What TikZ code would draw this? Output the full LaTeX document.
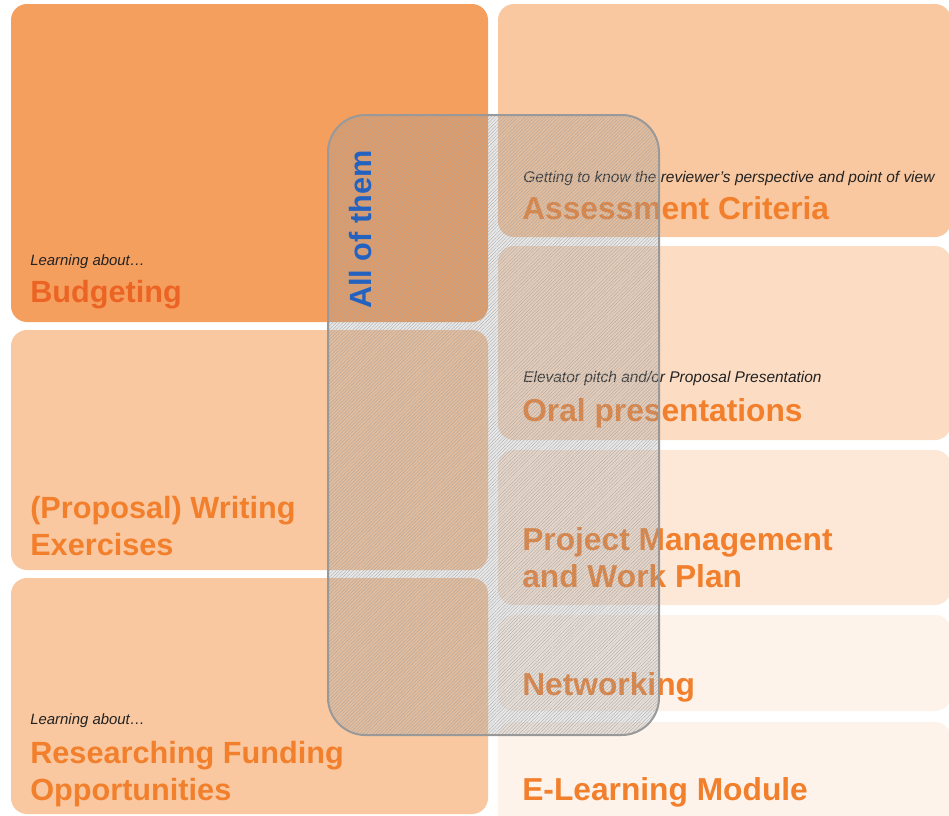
\documentclass[tikz,border=0pt]{standalone}
\usepackage{fontspec}
\setmainfont{Liberation Sans}
\usepackage{xcolor}
\usepackage{tikz}
\usetikzlibrary{patterns.meta}

\definecolor{boxdark}{HTML}{F59F5E}
\definecolor{boxmid}{HTML}{F9C8A0}
\definecolor{boxlight}{HTML}{FCDCC3}
\definecolor{boxpale}{HTML}{FDE8D8}
\definecolor{boxfaint}{HTML}{FEF3EA}
\definecolor{titleorange}{HTML}{F27F2C}
\definecolor{titlered}{HTML}{EC6424}
\definecolor{allblue}{HTML}{2462C0}
\definecolor{introgrey}{HTML}{222222}
\definecolor{framegrey}{HTML}{999999}

\begin{document}
\begin{tikzpicture}[x=0.75pt, y=-0.75pt,
    box/.style={rounded corners=12pt},
    title/.style={anchor=base west, inner sep=0pt, text=titleorange, align=left,
        font=\fontsize{23}{27.75}\selectfont\bfseries},
    righttitle/.style={title, font=\fontsize{23.8}{27.75}\selectfont\bfseries},
    intro/.style={anchor=base west, inner sep=0pt, text=introgrey,
        font=\fontsize{11.6}{13}\selectfont\itshape}]
            \clip (0,0) rectangle (949,815);

            \fill[boxdark, box] (11,4) rectangle (488,322);
            \fill[boxmid, box] (11,330) rectangle (488,570);
            \fill[boxmid, box] (11,578) rectangle (488,814);

            \fill[boxmid, box] (498,4) rectangle (951,237);
            \fill[boxlight, box] (498,246) rectangle (951,440);
            \fill[boxpale, box] (498,450) rectangle (951,605);
            \fill[boxfaint, box] (498,615) rectangle (951,711);
            \fill[boxfaint, box] (498,722) rectangle (951,840);

            \node[intro, font=\fontsize{11.2}{13}\selectfont\itshape] (budgetintro) at (30,265) {Learning about…};
            \node[title, text=titlered] (budgeting) at (30,302) {Budgeting};
            \node[title] (writing) at (30,555) {(Proposal) Writing\\Exercises};
            \node[intro, font=\fontsize{11.2}{13}\selectfont\itshape] (fundintro) at (30,724) {Learning about…};
            \node[title] (funding) at (30,800) {Researching Funding\\Opportunities};

            \node[intro] (assessintro) at (523,182) {Getting to know the reviewer’s perspective and point of view};
            \node[righttitle] (assessment) at (522,219) {Assessment Criteria};
            \node[intro] (oralintro) at (523,382) {Elevator pitch and/or Proposal Presentation};
            \node[righttitle] (oral) at (522,421) {Oral presentations};
            \node[righttitle] (project) at (522,587) {Project Management\\and Work Plan};
            \node[righttitle] (networking) at (522,695) {Networking};
            \node[righttitle] (elearning) at (522,800) {E-Learning Module};

            \fill[black!45, fill opacity=0.2, rounded corners=28pt] (328,115) rectangle (659,735);
            \fill[pattern={Lines[angle=45, distance=1.8pt, line width=0.25pt]}, pattern color=gray!70,
                fill opacity=0.12, rounded corners=28pt] (328,115) rectangle (659,735);
            \draw[framegrey, line width=1.5pt, rounded corners=28pt] (328,115) rectangle (659,735);

            \node[title, text=allblue, rotate=90] (allofthem) at (371,309) {All of them};
        \end{tikzpicture}
\end{document}
